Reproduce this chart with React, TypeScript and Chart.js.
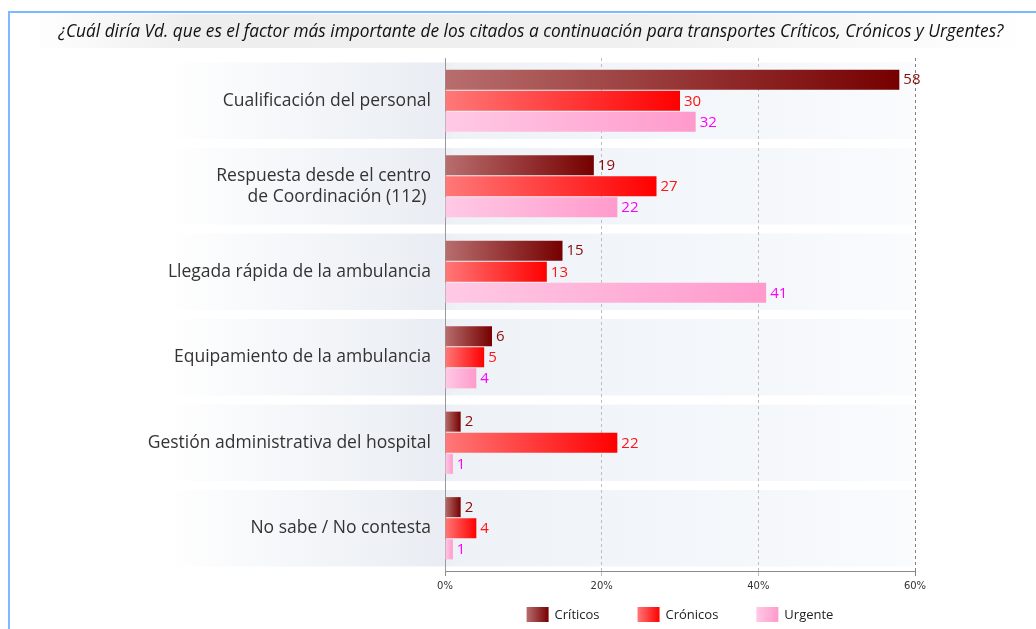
import React, { useEffect, useRef } from "react";
import { Chart, registerables } from "chart.js";

Chart.register(...registerables);

const W = 1036;
const H = 629;

const TITLE =
  "¿Cuál diría Vd. que es el factor más importante de los citados a continuación para transportes Críticos, Crónicos y Urgentes?";

const CATEGORIES: (string | string[])[] = [
  "Cualificación del personal",
  ["Respuesta desde el centro", "de Coordinación (112) "],
  "Llegada rápida de la ambulancia",
  "Equipamiento de la ambulancia",
  "Gestión administrativa del hospital",
  "No sabe / No contesta",
];

const SERIES_NAMES = ["Críticos", "Crónicos", "Urgente"];
const CRITICOS = [58, 19, 15, 6, 2, 2];
const CRONICOS = [30, 27, 13, 5, 22, 4];
const URGENTE = [32, 22, 41, 4, 1, 1];
const X_TICKS = [0, 20, 40, 60];

const SERIES_VALUES = [CRITICOS, CRONICOS, URGENTE];
const GRADS = [
  ["#b86e6e", "#760000"],
  ["#ff7878", "#ff0000"],
  ["#ffcae5", "#ff9acc"],
];
const LABEL_COLORS = ["#8a0c0c", "#ff1414", "#ff00ff"];

function barFill(ctx: any, i: number) {
  const chart = ctx.chart;
  const xs = chart.scales && chart.scales.x;
  if (!xs || ctx.type !== "data" || !chart.chartArea) return GRADS[i][1];
  const x0 = xs.getPixelForValue(0);
  const x1 = xs.getPixelForValue(ctx.raw as number);
  const g = chart.ctx.createLinearGradient(x0, 0, Math.max(x1, x0 + 1), 0);
  g.addColorStop(0, GRADS[i][0]);
  g.addColorStop(1, GRADS[i][1]);
  return g;
}

const backgroundPlugin = {
  id: "bgPlugin",
  beforeDraw(chart: any) {
    const { ctx, chartArea, scales } = chart;
    const ys = scales.y;
    ctx.save();
    ctx.fillStyle = "#ffffff";
    ctx.fillRect(0, 0, W, H);

    // title band
    const tg = ctx.createLinearGradient(30, 0, W, 0);
    tg.addColorStop(0, "#ffffff");
    tg.addColorStop(0.16, "#eeeeee");
    tg.addColorStop(0.6, "#f0f0f0");
    tg.addColorStop(1, "#ffffff");
    ctx.fillStyle = tg;
    ctx.fillRect(30, 14, W - 30, 34);

    // frame
    ctx.fillStyle = "#7cbaff";
    ctx.fillRect(8, 11, W - 8, 2);
    ctx.fillRect(8, 11, 2, H - 11);

    // title
    ctx.fillStyle = "#111111";
    ctx.font = "italic 17.3px 'Open Sans'";
    ctx.textAlign = "center";
    ctx.textBaseline = "middle";
    ctx.fillText(TITLE, 531, 32);

    // category bands
    const n = CATEGORIES.length;
    const slot = (ys.bottom - ys.top) / n;
    const startX = 165;
    for (let i = 0; i < n; i++) {
      const c = ys.getPixelForValue(i);
      const g = ctx.createLinearGradient(startX, 0, chartArea.right, 0);
      const span = chartArea.right - startX;
      g.addColorStop(0, "#ffffff");
      g.addColorStop((chartArea.left - 5 - startX) / span, "#e9edf3");
      g.addColorStop((chartArea.left + 10 - startX) / span, "#eef2f7");
      g.addColorStop(0.7, "#f3f6fa");
      g.addColorStop(1, "#f9fbfd");
      ctx.fillStyle = g;
      ctx.fillRect(startX, c - slot / 2 + 4.5, chartArea.right - startX, slot - 9);
    }
    ctx.restore();
  },
};

const valueLabelsPlugin = {
  id: "valueLabels",
  afterDatasetsDraw(chart: any) {
    const { ctx } = chart;
    ctx.save();
    ctx.font = "15px 'Open Sans'";
    ctx.textAlign = "left";
    ctx.textBaseline = "middle";
    chart.data.datasets.forEach((ds: any, di: number) => {
      const meta = chart.getDatasetMeta(di);
      ctx.fillStyle = LABEL_COLORS[di];
      meta.data.forEach((el: any, idx: number) => {
        ctx.fillText(String(ds.data[idx]), el.x + 4, el.y + 0.5);
      });
    });
    ctx.restore();
  },
};

const legendPlugin = {
  id: "customLegend",
  afterDraw(chart: any) {
    const { ctx, chartArea } = chart;
    ctx.save();
    ctx.font = "13px 'Open Sans'";
    ctx.textBaseline = "middle";
    ctx.textAlign = "left";
    const boxW = 22;
    const boxH = 15;
    const gapText = 6;
    const gapItem = 38;
    const names = chart.data.datasets.map((d: any) => d.label);
    const widths = names.map((n: string) => ctx.measureText(n).width);
    let total = 0;
    widths.forEach((w: number, i: number) => {
      total += boxW + gapText + w + (i < widths.length - 1 ? gapItem : 0);
    });
    let x = (chartArea.left + chartArea.right) / 2 - total / 2;
    const boxY = 607;
    names.forEach((n: string, i: number) => {
      const g = ctx.createLinearGradient(x, 0, x + boxW, 0);
      g.addColorStop(0, GRADS[i][0]);
      g.addColorStop(1, GRADS[i][1]);
      ctx.fillStyle = g;
      ctx.fillRect(x, boxY, boxW, boxH);
      ctx.fillStyle = "#222222";
      ctx.fillText(n, x + boxW + gapText, boxY + boxH / 2 + 0.5);
      x += boxW + gapText + widths[i] + gapItem;
    });
    ctx.restore();
  },
};

export default function App() {
  const canvasRef = useRef<HTMLCanvasElement | null>(null);

  useEffect(() => {
    const canvas = canvasRef.current;
    if (!canvas) return;
    const chart = new Chart(canvas, {
      type: "bar",
      data: {
        labels: CATEGORIES as any,
        datasets: SERIES_NAMES.map((name, i) => ({
          label: name,
          data: SERIES_VALUES[i],
          backgroundColor: (c: any) => barFill(c, i),
          borderWidth: 0,
          categoryPercentage: 0.74,
          barPercentage: 0.95,
        })),
      },
      options: {
        indexAxis: "y",
        responsive: false,
        animation: false,
        devicePixelRatio: 1,
        layout: { padding: { left: 0, right: W - 915, top: 58, bottom: H - 571 - 30 } },
        plugins: {
          legend: { display: false },
          title: { display: false },
          tooltip: { enabled: false },
        },
        scales: {
          x: {
            type: "linear",
            min: 0,
            max: 60,
            afterBuildTicks: (s: any) => {
              s.ticks = X_TICKS.map((v) => ({ value: v }));
            },
            afterFit: (s: any) => {
              s.height = 30;
            },
            ticks: {
              callback: (v: any) => v + "%",
              font: { family: "'DejaVu Sans'", size: 10 },
              color: "#333333",
              padding: 4,
              maxRotation: 0,
              autoSkip: false,
            },
            grid: {
              display: true,
              color: (c: any) =>
                c.index === 0 ? "rgba(0,0,0,0)" : c.index === X_TICKS.length - 1 ? "#808080" : "#bdbdbd",
              tickColor: (c: any) =>
                c.index === 0 ? "#8a8a8a" : c.index === X_TICKS.length - 1 ? "#808080" : "#bdbdbd",
              tickLength: 5,
              lineWidth: 1,
            },
            border: { display: true, color: "#8a8a8a", width: 1, dash: [3, 3] },
          },
          y: {
            type: "category",
            afterFit: (s: any) => {
              s.width = 445;
            },
            ticks: {
              font: { family: "'Open Sans'", size: 17.5, lineHeight: 1.2 },
              color: "#333333",
              padding: 14,
              autoSkip: false,
            },
            grid: { display: false, drawTicks: false },
            border: { display: true, color: "#999999", width: 1 },
          },
        },
      } as any,
      plugins: [backgroundPlugin, valueLabelsPlugin, legendPlugin],
    });
    return () => chart.destroy();
  }, []);

  return (
    <div style={{ position: "absolute", left: 0, top: 0, width: W, height: H }}>
      <canvas ref={canvasRef} width={W} height={H} style={{ display: "block", width: W, height: H }} />
    </div>
  );
}
